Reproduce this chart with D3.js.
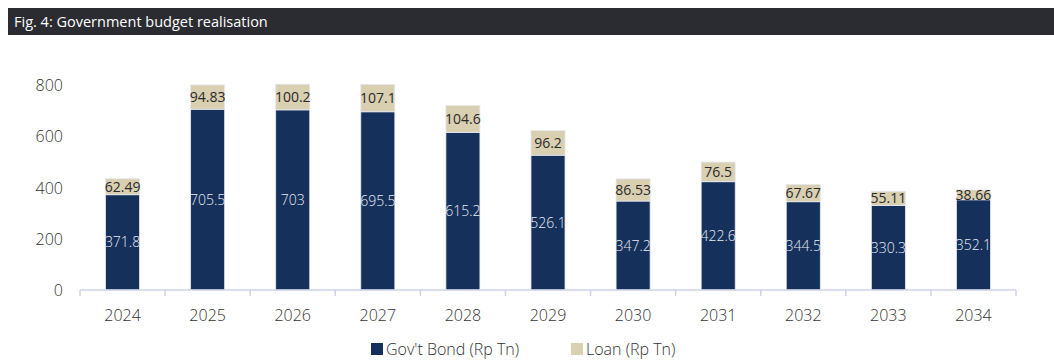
<!DOCTYPE html>
<html>
<head>
<meta charset="utf-8">
<script src="https://cdn.jsdelivr.net/npm/d3@7"></script>
<style>
  body { margin: 0; background: #fff; }
  text { font-family: "Open Sans", sans-serif; font-weight: 300; }
</style>
</head>
<body>
<script>
const years = ["2024","2025","2026","2027","2028","2029","2030","2031","2032","2033","2034"];
const bond = [371.8, 705.5, 703, 695.5, 615.2, 526.1, 347.2, 422.6, 344.5, 330.3, 352.1];
const loan = [62.49, 94.83, 100.2, 107.1, 104.6, 96.2, 86.53, 76.5, 67.67, 55.11, 38.66];
const yTicks = [0, 200, 400, 600, 800];
const seriesNames = ["Gov't Bond (Rp Tn)", "Loan (Rp Tn)"];
const colors = ["#15305b", "#d9cfb1"];

const W = 1054, H = 361;
const svg = d3.select("body").append("svg")
    .attr("width", W)
    .attr("height", H);

// title bar
svg.append("rect")
    .attr("x", 8).attr("y", 8)
    .attr("width", W - 8).attr("height", 27)
    .attr("fill", "#2b2c31");
svg.append("text")
    .attr("x", 14).attr("y", 27)
    .attr("fill", "#fff")
    .style("font-size", "14.5px")
    .style("font-weight", 400)
    .text("Fig. 4: Government budget realisation");

const x = d3.scaleBand()
    .domain(years)
    .range([80, 1016])
    .paddingInner(0.6)
    .paddingOuter(0.3);

const y = d3.scaleLinear()
    .domain([0, 800])
    .range([290, 85]);

// y labels
svg.append("g")
    .selectAll("text")
    .data(yTicks)
    .join("text")
    .attr("x", 63)
    .attr("y", d => y(d) + 6)
    .attr("text-anchor", "end")
    .attr("fill", "#333")
    .style("font-size", "16px")
    .text(d => d);

// stacked bars
const rows = years.map((yr, i) => ({ year: yr, bond: bond[i], loan: loan[i] }));
const stack = d3.stack().keys(["bond", "loan"])(rows);

const layers = svg.append("g")
    .selectAll("g")
    .data(stack)
    .join("g")
    .attr("fill", (d, i) => colors[i]);

layers.selectAll("rect")
    .data(d => d)
    .join("rect")
    .attr("x", d => x(d.data.year))
    .attr("y", d => y(d[1]))
    .attr("width", x.bandwidth())
    .attr("height", d => y(d[0]) - y(d[1]))
    .attr("stroke", "#e6e8f2")
    .attr("stroke-width", 0.8);

// value labels
layers.each(function(layer, li) {
    d3.select(this).selectAll("text")
        .data(layer)
        .join("text")
        .attr("x", d => x(d.data.year) + x.bandwidth() / 2)
        .attr("y", d => (y(d[0]) + y(d[1])) / 2 + 5)
        .attr("text-anchor", "middle")
        .attr("fill", li === 0 ? "#e8ecf5" : "#2a2a2a")
        .style("font-size", "14px")
        .style("font-weight", li === 0 ? 300 : 400)
        .text(d => d.data[layer.key]);
});

// x axis
const xAxis = svg.append("g")
    .attr("transform", "translate(0,290)");
xAxis.append("line")
    .attr("x1", 80).attr("x2", 1016)
    .attr("stroke", "#cfd3e8").attr("stroke-width", 1.5);
xAxis.selectAll(".tk")
    .data(d3.range(years.length + 1))
    .join("line")
    .attr("class", "tk")
    .attr("x1", i => 80 + i * (1016 - 80) / years.length)
    .attr("x2", i => 80 + i * (1016 - 80) / years.length)
    .attr("y1", 0).attr("y2", 6)
    .attr("stroke", "#cfd3e8").attr("stroke-width", 1.5);
xAxis.selectAll(".lbl")
    .data(years)
    .join("text")
    .attr("class", "lbl")
    .attr("x", d => x(d) + x.bandwidth() / 2)
    .attr("y", 31)
    .attr("text-anchor", "middle")
    .attr("fill", "#333")
    .style("font-size", "16px")
    .text(d => d);

// legend
const legend = svg.append("g").attr("transform", "translate(371,343)");
const legX = [0, 200];
seriesNames.forEach((name, i) => {
    legend.append("rect")
        .attr("x", legX[i]).attr("y", 0)
        .attr("width", 12).attr("height", 12)
        .attr("fill", colors[i]);
    legend.append("text")
        .attr("x", legX[i] + 15).attr("y", 12)
        .attr("fill", "#333")
        .style("font-size", "16px")
        .text(name);
});
</script>
</body>
</html>
